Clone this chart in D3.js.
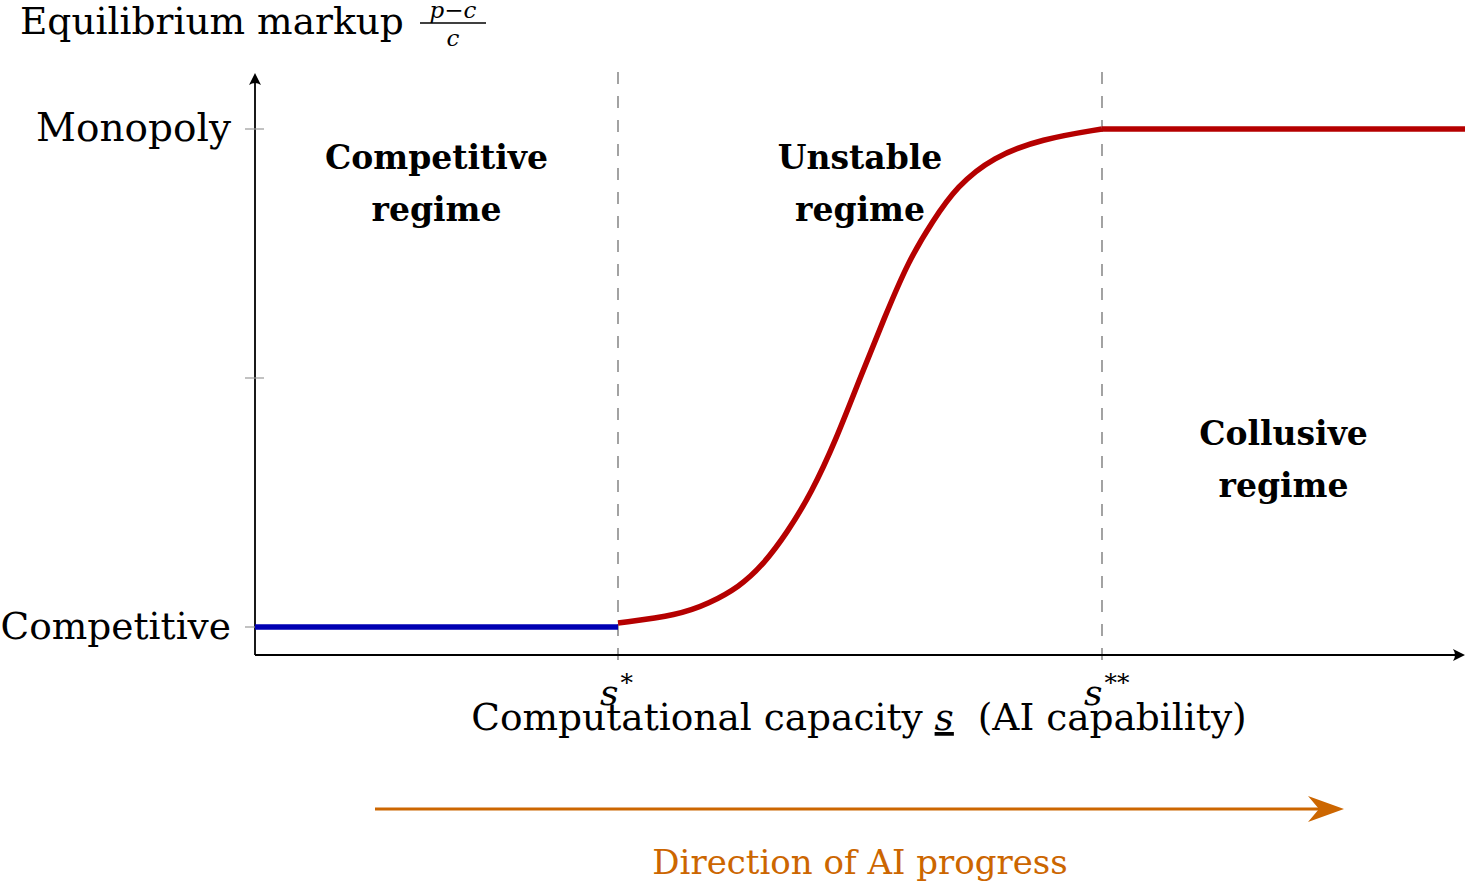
<!DOCTYPE html>
<meta charset="utf-8">
<style>
body { margin: 0; background: #fff; }
text { font-family: "DejaVu Serif", serif; fill: #000; }
.region { font-weight: bold; font-size: 33px; }
</style>
<svg width="1465" height="885" id="chart"></svg>
<script src="https://cdn.jsdelivr.net/npm/d3@7"></script>
<script>
// capacity s on x, equilibrium markup (0 = competitive, 1 = monopoly) on y
var competitiveS = [0, 3],
    competitiveM = [0, 0];
var unstableS = [3, 3.5, 3.75, 4, 4.2, 4.4, 4.6, 4.8, 5, 5.2, 5.4, 5.6, 5.8, 6.1, 6.5, 7],
    unstableM = [0.008, 0.024, 0.047, 0.08, 0.125, 0.19, 0.27, 0.375, 0.5, 0.62, 0.735, 0.815, 0.885, 0.944, 0.98, 1.0];
var collusiveS = [7, 10],
    collusiveM = [1, 1];
var thresholdS = [3, 7],
    thresholdLabels = ["*", "**"];
var yTicks = [0, 0.5, 1],
    yTickLabels = ["Competitive", "", "Monopoly"];
var regionNames = [["Competitive", "regime"], ["Unstable", "regime"], ["Collusive", "regime"]],
    regionS = [1.5, 5.0, 8.5],
    regionM = [0.92, 0.92, 0.365];

var svg = d3.select("#chart");
var x = d3.scaleLinear().domain([0, 10]).range([255, 1465]);
var y = d3.scaleLinear().domain([0, 1]).range([627, 129]);
var axisY = 655, axisTop = 73;

var line = d3.line().x(d => x(d[0])).y(d => y(d[1]));
var smooth = d3.line().x(d => x(d[0])).y(d => y(d[1])).curve(d3.curveBasis);

// dashed thresholds
svg.append("g").selectAll("line")
  .data(thresholdS)
  .enter().append("line")
    .attr("x1", d => x(d)).attr("x2", d => x(d))
    .attr("y1", 72).attr("y2", 667)
    .attr("stroke", "#8c8c8c")
    .attr("stroke-width", 1.6)
    .attr("stroke-dasharray", "12,12");

// axes
svg.append("line")
    .attr("x1", x(0)).attr("x2", 1458)
    .attr("y1", axisY).attr("y2", axisY)
    .attr("stroke", "#000").attr("stroke-width", 1.8);
svg.append("line")
    .attr("x1", x(0)).attr("x2", x(0))
    .attr("y1", axisY).attr("y2", axisTop + 6)
    .attr("stroke", "#000").attr("stroke-width", 1.8);
svg.append("path")
    .attr("d", "M1465," + axisY + " L1453," + (axisY - 6) + " Q1457," + axisY + " 1453," + (axisY + 6) + " Z")
    .attr("fill", "#000");
svg.append("path")
    .attr("d", "M" + x(0) + "," + axisTop + " L" + (x(0) - 6) + "," + (axisTop + 12) + " Q" + x(0) + "," + (axisTop + 8) + " " + (x(0) + 6) + "," + (axisTop + 12) + " Z")
    .attr("fill", "#000");

// y ticks
var ticks = svg.append("g").selectAll("g")
  .data(yTicks)
  .enter().append("g")
    .attr("transform", d => "translate(0," + y(d) + ")");
ticks.append("line")
    .attr("x1", x(0) - 10).attr("x2", x(0) + 9)
    .attr("stroke", "#999").attr("stroke-width", 1.2);
ticks.append("text")
    .attr("x", x(0) - 24)
    .attr("dy", "0.32em")
    .attr("text-anchor", "end")
    .attr("font-size", (d, i) => i == 2 ? 39 : 37.5)
    .text((d, i) => yTickLabels[i]);

// curves
svg.append("path")
    .datum(d3.zip(competitiveS, competitiveM))
    .attr("d", line)
    .attr("fill", "none").attr("stroke", "#0000b3").attr("stroke-width", 5.5);
svg.append("path")
    .datum(d3.zip(unstableS, unstableM))
    .attr("d", smooth)
    .attr("fill", "none").attr("stroke", "#b50000").attr("stroke-width", 5.5);
svg.append("path")
    .datum(d3.zip(collusiveS, collusiveM))
    .attr("d", line)
    .attr("fill", "none").attr("stroke", "#b50000").attr("stroke-width", 5.5);

// region labels
var reg = svg.append("g").selectAll("text")
  .data(regionNames)
  .enter().append("text")
    .attr("class", "region")
    .attr("text-anchor", "middle")
    .attr("x", (d, i) => x(regionS[i]))
    .attr("y", (d, i) => y(regionM[i]));
reg.selectAll("tspan")
  .data(d => d)
  .enter().append("tspan")
    .attr("x", function() { return this.parentNode.getAttribute("x"); })
    .attr("dy", (d, i) => i ? 52 : 0)
    .text(d => d);

// threshold labels s*, s**
var th = svg.append("g").selectAll("text")
  .data(thresholdS)
  .enter().append("text")
    .attr("x", d => x(d) - 18)
    .attr("y", 705);
th.append("tspan")
    .attr("font-style", "italic")
    .attr("font-size", 36)
    .text("s");
th.append("tspan")
    .attr("font-size", 25)
    .attr("dy", -14)
    .attr("dx", 2)
    .text((d, i) => thresholdLabels[i]);

// x axis title
var xt = svg.append("text")
    .attr("x", 859)
    .attr("y", 730)
    .attr("text-anchor", "middle")
    .attr("font-size", 37.5);
xt.append("tspan").text("Computational capacity ");
xt.append("tspan").attr("font-style", "italic").attr("text-decoration", "underline").text("s");
xt.append("tspan").text("\u00a0\u00a0(AI capability)");

// y axis title with fraction
svg.append("text")
    .attr("x", 20).attr("y", 34)
    .attr("font-size", 37.5)
    .text("Equilibrium markup");
svg.append("text")
    .attr("x", 453).attr("y", 18)
    .attr("text-anchor", "middle")
    .attr("font-size", 23)
    .attr("font-style", "italic")
    .text("p\u2212c");
svg.append("line")
    .attr("x1", 420).attr("x2", 486)
    .attr("y1", 23).attr("y2", 23)
    .attr("stroke", "#000").attr("stroke-width", 1.3);
svg.append("text")
    .attr("x", 453).attr("y", 46)
    .attr("text-anchor", "middle")
    .attr("font-size", 23)
    .attr("font-style", "italic")
    .text("c");

// direction arrow
var orange = "#cc6600";
svg.append("line")
    .attr("x1", 375).attr("x2", 1320)
    .attr("y1", 809).attr("y2", 809)
    .attr("stroke", orange).attr("stroke-width", 3.2);
svg.append("path")
    .attr("d", "M1344,809 L1308,796 L1319,809 L1308,822 Z")
    .attr("fill", orange);
svg.append("text")
    .attr("x", 860).attr("y", 874)
    .attr("text-anchor", "middle")
    .attr("font-size", 34)
    .style("fill", orange)
    .text("Direction of AI progress");
</script>
